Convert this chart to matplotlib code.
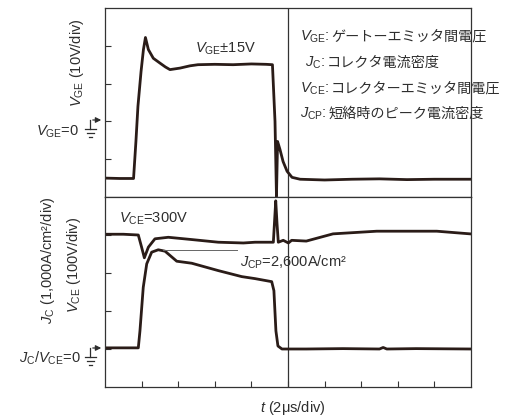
import matplotlib
matplotlib.use("Agg")
import matplotlib.pyplot as plt
from matplotlib import font_manager as fm
from matplotlib.lines import Line2D
from matplotlib.patches import FancyArrowPatch

# ---------------- data (time in µs, 2 µs/div) ----------------
t_vge = [0, 0.8, 1.56, 1.69, 1.80, 1.97, 2.10, 2.21, 2.37, 2.64, 3.01, 3.30, 3.55,
         4.10, 4.64, 5.08, 6.0, 7.0, 8.0, 8.8, 9.15, 9.29, 9.37, 9.43, 9.56, 9.73,
         9.95, 10.22, 10.66, 12.0, 13.5, 15.0, 16.5, 18.0, 20.0]
vge = [-15.0, -15.1, -15.1, -5.3, 4.0, 13.2, 19.0, 22.2, 19.0, 16.7, 15.4, 14.4, 13.7,
       14.1, 14.7, 15.0, 15.1, 15.0, 15.2, 15.1, 15.0, 0.0, -19.8, -5.3, -7.4, -10.6,
       -13.2, -14.8, -15.3, -15.5, -15.3, -15.2, -15.4, -15.3, -15.3]

t_vce = [0, 1.0, 1.82, 2.0, 2.15, 2.37, 2.73, 3.46, 4.74, 6.19, 7.56, 8.2, 9.20, 9.27,
         9.33, 9.40, 9.47, 9.74, 10.02, 10.2, 11.0, 12.46, 14.85, 16.5, 18.13, 19.95]
vce = [302, 302, 300, 268, 240, 268, 290, 294, 288, 281, 279, 281, 281, 340,
       390, 330, 281, 286, 279, 286, 284, 303, 310, 310, 310, 303]

t_jc = [0, 1.0, 1.82, 1.91, 2.09, 2.28, 2.55, 2.91, 3.28, 3.92, 4.74, 6.19, 7.47, 8.20,
        9.11, 9.23, 9.34, 9.45, 9.67, 11.0, 13.0, 15.0, 15.2, 15.4, 17.0, 20.0]
jc = [30, 30, 30, 476, 1622, 2241, 2548, 2611, 2574, 2310, 2257, 2063, 1905, 1852,
      1772, 1534, 476, 79, 0, 0, 10, 0, 40, 0, 10, 0]

jcp_value = 2600          # A/cm2
jcp_span = [3.19, 7.2]    # µs
x_ticks = [2, 4, 6, 8, 10, 12, 14, 16, 18]
vge_ticks = [-10, 0, 10, 20]
low_ticks = [0, 100, 200, 300]

legend_symbols = [r'$V_{\mathrm{GE}}$:', r'$J_{\mathrm{C}}$:', r'$V_{\mathrm{CE}}$:',
                  r'$J_{\mathrm{CP}}$:']
legend_texts = ['ゲートーエミッタ間電圧', 'コレクタ電流密度', 'コレクターエミッタ間電圧',
                '短絡時のピーク電流密度']

# ---------------- fonts ----------------
avail = {f.name for f in fm.fontManager.ttflist}
LAT = 'Liberation Sans Narrow' if 'Liberation Sans Narrow' in avail else 'Liberation Sans'
CJK = 'Noto Sans CJK JP'
plt.rcParams['font.family'] = [LAT, CJK, 'DejaVu Sans']
plt.rcParams['mathtext.fontset'] = 'custom'
plt.rcParams['mathtext.rm'] = LAT
plt.rcParams['mathtext.it'] = LAT + ':italic'
plt.rcParams['mathtext.bf'] = LAT + ':bold'

TXT = '#2e2e2e'
TRC = '#2a1c18'
FR = '#333333'
FS = 10.5

W, H = 505, 416
fig = plt.figure(figsize=(W / 100, H / 100), dpi=100)
fig.patch.set_facecolor('white')


def P(x, y):
    return (x / W, 1 - y / H)


L, R, TOP, MID, BOT = 105, 471, 8, 197, 387
ax1 = fig.add_axes([L / W, 1 - MID / H, (R - L) / W, (MID - TOP) / H])
ax2 = fig.add_axes([L / W, 1 - BOT / H, (R - L) / W, (BOT - MID) / H])

for ax in (ax1, ax2):
    for s in ax.spines.values():
        s.set_color(FR)
        s.set_linewidth(0.9)
    ax.tick_params(direction='in', length=4.5, width=0.8, color=FR,
                   labelleft=False, labelbottom=False)
    ax.set_xlim(0, 20)
    ax.axvline(10, color=FR, lw=0.9)

ax1.set_ylim(-20, 30)
ax1.set_yticks(vge_ticks)
ax1.set_xticks([])
ax2.set_ylim(-100, 400)
ax2.set_yticks(low_ticks)
ax2.set_xticks(x_ticks)

ax1.plot(t_vge, vge, color=TRC, lw=2.0, solid_joinstyle='round')
ax2.plot(t_vce, vce, color=TRC, lw=2.0, solid_joinstyle='round')
ax2.plot(t_jc, [v / 10 for v in jc], color=TRC, lw=2.0, solid_joinstyle='round')
ax2.plot(jcp_span, [jcp_value / 10] * 2, color='#666666', lw=0.7)

# annotations in panels
ax1.text(4.92, 19.2, r'$V_{\mathrm{GE}}$±15V', fontsize=FS, color=TXT,
         ha='left', va='center')
ax2.text(0.77, 342, r'$V_{\mathrm{CE}}$=300V', fontsize=FS, color=TXT,
         ha='left', va='center')
ax2.text(7.38, 227, r'$J_{\mathrm{CP}}$=2,600A/cm²', fontsize=FS, color=TXT,
         ha='left', va='center')

legend_pos = [(300, 37), (305, 63), (300, 89), (300, 114)]
for (x, y), sym, txt in zip(legend_pos, legend_symbols, legend_texts):
    lab = fig.text(*P(x, y), sym, fontsize=FS, color=TXT, ha='left', va='center')
    fig.add_artist(plt.Annotation(txt, xy=(1, 0.5), xycoords=lab, xytext=(1.5, 0),
                                  textcoords='offset points', fontsize=10.2,
                                  family=CJK, color=TXT, ha='left', va='center'))

# axis labels
fig.text(*P(77, 63), r'$V_{\mathrm{GE}}$ (10V/div)', rotation=90, fontsize=FS,
         color=TXT, ha='center', va='center')
fig.text(*P(48, 260), r'$J_{\mathrm{C}}$ (1,000A/cm²/div)', rotation=90, fontsize=FS,
         color=TXT, ha='center', va='center')
fig.text(*P(74, 265), r'$V_{\mathrm{CE}}$ (100V/div)', rotation=90, fontsize=FS,
         color=TXT, ha='center', va='center')
fig.text(*P(293, 408), r'$t$ (2μs/div)', fontsize=FS, color=TXT,
         ha='center', va='center')

# zero markers with ground symbols
fig.text(*P(79, 132), r'$V_{\mathrm{GE}}$=0', fontsize=FS, color=TXT,
         ha='right', va='center')
fig.text(*P(81, 358), r'$J_{\mathrm{C}}$/$V_{\mathrm{CE}}$=0', fontsize=FS, color=TXT,
         ha='right', va='center')


def ground(xg, ya, y1):
    fig.add_artist(Line2D([xg / W, xg / W], [1 - ya / H, 1 - y1 / H],
                          transform=fig.transFigure, color=TXT, lw=0.9))
    for i, hw in enumerate([5.5, 3.5, 1.5]):
        yy = y1 + i * 4
        fig.add_artist(Line2D([(xg - hw) / W, (xg + hw) / W], [1 - yy / H] * 2,
                              transform=fig.transFigure, color=TXT, lw=0.9))
    fig.add_artist(FancyArrowPatch(P(xg, ya), P(L - 1, ya), transform=fig.transFigure,
                                   arrowstyle='-|>', mutation_scale=8, color=TXT, lw=0.9))


ground(90, 120, 129)
ground(90, 348, 357)

fig.savefig('out.png', dpi=100, facecolor='white')
